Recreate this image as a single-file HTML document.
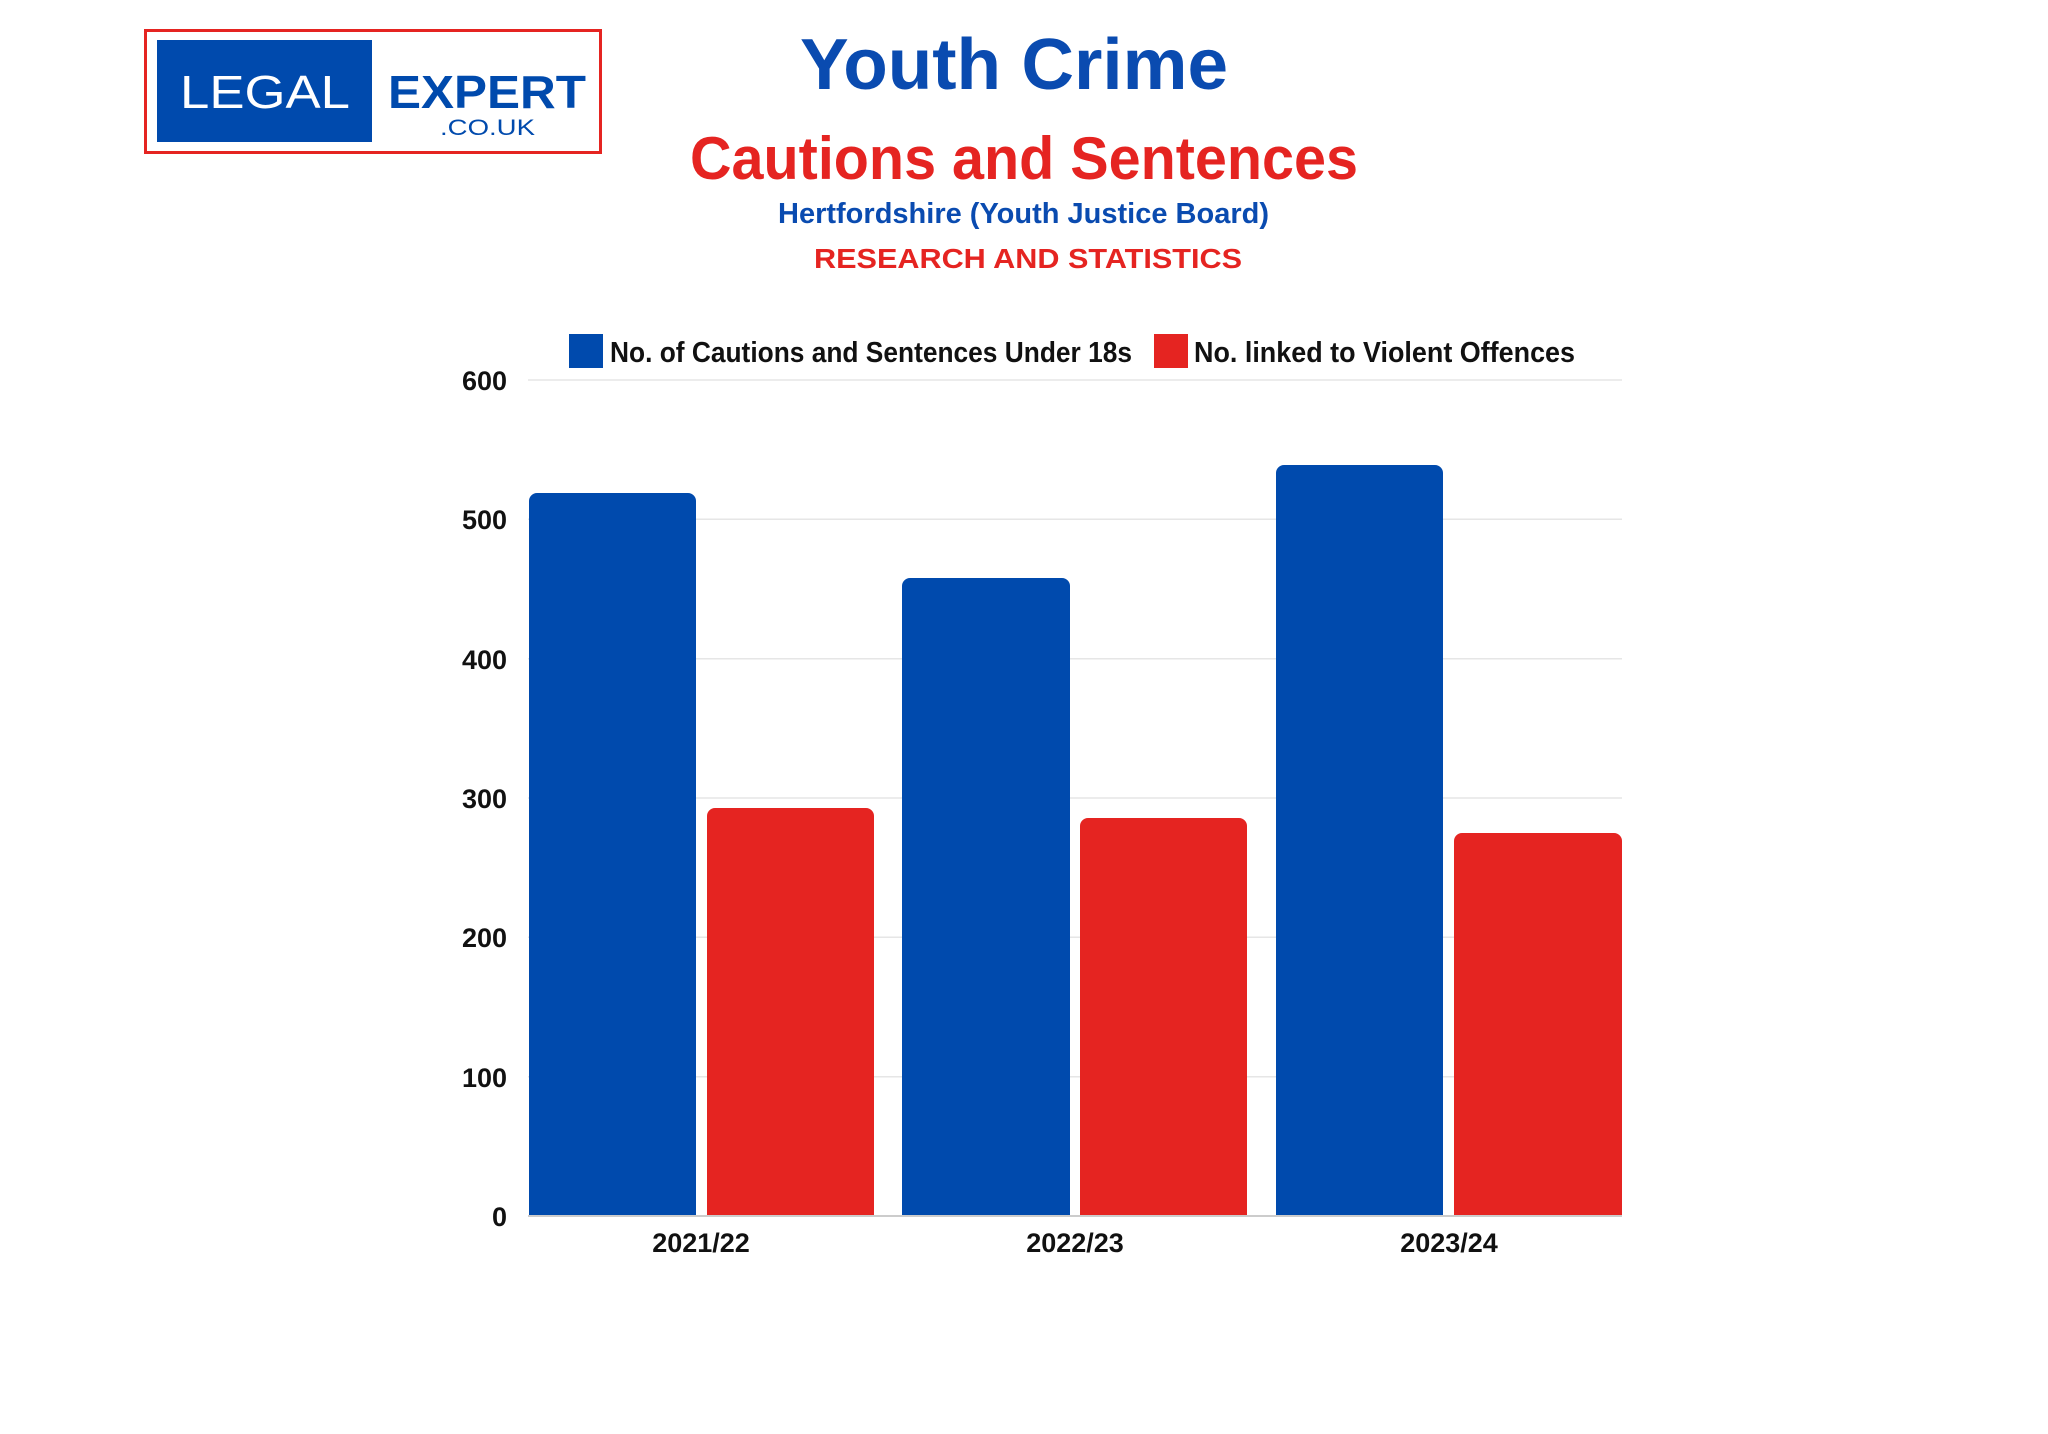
<!DOCTYPE html>
<html><head><meta charset="utf-8"><style>
html,body{margin:0;padding:0;background:#fff;}
svg{display:block;}
text{font-family:"Liberation Sans",sans-serif;}
</style></head><body>
<svg width="2048" height="1434" viewBox="0 0 2048 1434" xmlns="http://www.w3.org/2000/svg">
<rect width="2048" height="1434" fill="#fff"/>
<!-- Logo -->
<rect x="145.5" y="30.5" width="455" height="122" fill="#fff" stroke="#e52421" stroke-width="3"/>
<rect x="157" y="40" width="215" height="102" fill="#004aad"/>
<text x="180" y="108" font-size="46" fill="#fff" textLength="170" lengthAdjust="spacingAndGlyphs">LEGAL</text>
<text x="388" y="108" font-size="46" font-weight="bold" fill="#004aad" textLength="198" lengthAdjust="spacingAndGlyphs">EXPERT</text>
<text x="440" y="135" font-size="22" fill="#004aad" textLength="95" lengthAdjust="spacingAndGlyphs">.CO.UK</text>
<!-- Titles -->
<text x="800" y="89" font-size="72" font-weight="bold" fill="#0a4bb0" textLength="428" lengthAdjust="spacingAndGlyphs">Youth Crime</text>
<text x="690" y="179" font-size="60" font-weight="bold" fill="#e52421" textLength="668" lengthAdjust="spacingAndGlyphs">Cautions and Sentences</text>
<text x="778" y="223" font-size="29" font-weight="bold" fill="#0a4bb0" textLength="491" lengthAdjust="spacingAndGlyphs">Hertfordshire (Youth Justice Board)</text>
<text x="814" y="268" font-size="28" font-weight="bold" fill="#e52421" textLength="428" lengthAdjust="spacingAndGlyphs">RESEARCH AND STATISTICS</text>
<!-- Legend -->
<rect x="569" y="334" width="34" height="34" fill="#004aad"/>
<text x="610" y="362" font-size="29" font-weight="bold" fill="#111" textLength="522" lengthAdjust="spacingAndGlyphs">No. of Cautions and Sentences Under 18s</text>
<rect x="1154" y="334" width="34" height="34" fill="#e52421"/>
<text x="1194" y="362" font-size="29" font-weight="bold" fill="#111" textLength="381" lengthAdjust="spacingAndGlyphs">No. linked to Violent Offences</text>
<!-- Grid -->
<g stroke="#e6e6e6" stroke-width="1.5">
<line x1="528" x2="1622" y1="380" y2="380"/>
<line x1="528" x2="1622" y1="519.3" y2="519.3"/>
<line x1="528" x2="1622" y1="658.7" y2="658.7"/>
<line x1="528" x2="1622" y1="798" y2="798"/>
<line x1="528" x2="1622" y1="937.3" y2="937.3"/>
<line x1="528" x2="1622" y1="1076.7" y2="1076.7"/>
</g>
<g font-size="27" font-weight="bold" fill="#111" text-anchor="end">
<text x="507" y="390">600</text>
<text x="507" y="529">500</text>
<text x="507" y="669">400</text>
<text x="507" y="808">300</text>
<text x="507" y="947">200</text>
<text x="507" y="1087">100</text>
<text x="507" y="1226">0</text>
</g>
<!-- Bars -->
<g fill="#004aad">
<rect x="529" y="493" width="167" height="723" rx="8"/><rect x="529" y="510" width="167" height="706"/>
<rect x="902" y="578" width="168" height="638" rx="8"/><rect x="902" y="595" width="168" height="621"/>
<rect x="1276" y="465" width="167" height="751" rx="8"/><rect x="1276" y="482" width="167" height="734"/>
</g>
<g fill="#e52421">
<rect x="707" y="808" width="167" height="408" rx="8"/><rect x="707" y="825" width="167" height="391"/>
<rect x="1080" y="818" width="167" height="398" rx="8"/><rect x="1080" y="835" width="167" height="381"/>
<rect x="1454" y="833" width="168" height="383" rx="8"/><rect x="1454" y="850" width="168" height="366"/>
</g>
<line x1="528" x2="1622" y1="1216" y2="1216" stroke="#ccc" stroke-width="2"/>
<g font-size="27" font-weight="bold" fill="#111" text-anchor="middle">
<text x="701" y="1252">2021/22</text>
<text x="1075" y="1252">2022/23</text>
<text x="1449" y="1252">2023/24</text>
</g>
</svg>
</body></html>
